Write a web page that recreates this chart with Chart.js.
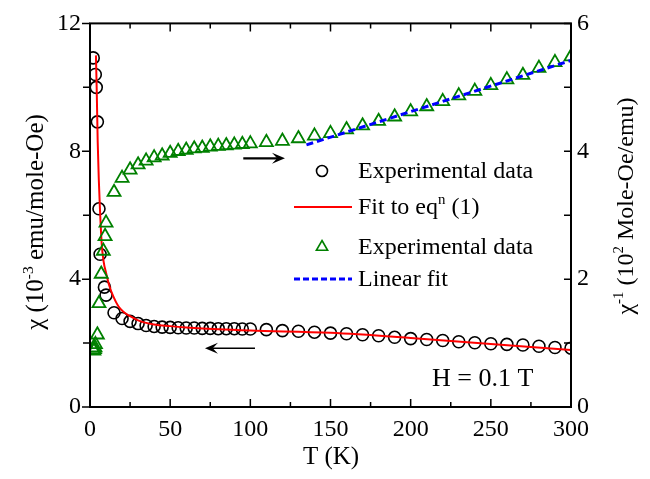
<!DOCTYPE html>
<html><head><meta charset="utf-8">
<script src="https://cdn.jsdelivr.net/npm/chart.js@4.4.1/dist/chart.umd.min.js"></script>
<style>html,body{margin:0;padding:0;background:#fff}</style>
</head><body>
<canvas id="c" width="650" height="479"></canvas>
<script>
// ---- data ----
const T_CHI = [2, 3.3, 3.9, 4.6, 5.6, 6.3, 9, 10, 15, 20, 25, 30, 35, 40, 45, 50, 55, 60, 65, 70, 75, 80, 85, 90, 95, 100,
  110, 120, 130, 140, 150, 160, 170, 180, 190, 200, 210, 220, 230, 240, 250, 260, 270, 280, 290, 300];
const CHI = [10.92, 10.4, 10.0, 8.92, 6.2, 4.78, 3.75, 3.5, 2.95, 2.77, 2.68, 2.61, 2.55, 2.52, 2.50, 2.49, 2.48, 2.47, 2.47, 2.46, 2.46, 2.45, 2.45, 2.45, 2.44, 2.44,
  2.42, 2.39, 2.37, 2.34, 2.31, 2.29, 2.26, 2.23, 2.18, 2.14, 2.11, 2.08, 2.04, 2.01, 1.98, 1.96, 1.94, 1.90, 1.86, 1.84];

const T_FIT = [3.7, 4.2, 4.8, 5.5, 6.2, 7.3, 8.5, 10, 12, 14.6, 17.7, 20.8, 25, 30, 40, 50, 60, 80, 100, 150, 200, 250, 300];
const CHI_FIT = [11.0, 9.9, 8.3, 7.1, 6.2, 5.1, 4.55, 4.2, 3.8, 3.45, 3.15, 2.98, 2.84, 2.71, 2.58, 2.53, 2.49, 2.43, 2.39, 2.32, 2.16, 1.97, 1.78];

const T_INV = [2.4, 2.8, 3.1, 3.4, 4.6, 5.6, 7.0, 8.3, 9.4, 10, 15, 20, 25, 30, 35, 40, 45, 50, 55, 60, 65, 70, 75, 80, 85, 90, 95, 100,
  110, 120, 130, 140, 150, 160, 170, 180, 190, 200, 210, 220, 230, 240, 250, 260, 270, 280, 290, 300];
const CHI_INV = [0.88, 0.90, 0.93, 0.98, 1.13, 1.62, 2.08, 2.44, 2.67, 2.88, 3.36, 3.58, 3.71, 3.79, 3.85, 3.90, 3.93, 3.97, 4.00, 4.02, 4.04, 4.05, 4.07, 4.08, 4.09, 4.10, 4.11, 4.12,
  4.14, 4.16, 4.20, 4.24, 4.28, 4.34, 4.40, 4.47, 4.54, 4.62, 4.70, 4.78, 4.87, 4.94, 5.03, 5.12, 5.19, 5.30, 5.39, 5.48];

const T_LIN = [135, 300];
const INV_LIN = [4.10, 5.42];

const X_TICKS = [0, 50, 100, 150, 200, 250, 300];
const Y_TICKS = [0, 4, 8, 12];
const Y2_TICKS = [0, 2, 4, 6];

const LEGEND_LABELS = ['Experimental data', 'Fit to eq', 'Experimental data', 'Linear fit'];
const ANNOTATION = 'H = 0.1 T';
// arrows: [x1, x2, y]
const ARROW_RIGHT = [95.6, 121.6, 3.89];
const ARROW_LEFT = [102.9, 71.7, 1.84];

const FONT = '"Liberation Serif", "Times New Roman", serif';
function pts(xs, ys) { return xs.map((x, i) => ({ x: x, y: ys[i] })); }

function drawRich(ctx, parts, x, y, size, align) {
  let total = 0;
  for (const p of parts) {
    ctx.font = (p[1] ? size * 0.62 : size) + 'px ' + FONT;
    total += ctx.measureText(p[0]).width;
  }
  let cx = align === 'center' ? x - total / 2 : x;
  ctx.textAlign = 'left';
  ctx.textBaseline = 'alphabetic';
  for (const p of parts) {
    ctx.font = (p[1] ? size * 0.62 : size) + 'px ' + FONT;
    ctx.fillText(p[0], cx, p[1] ? y - size * 0.42 : y);
    cx += ctx.measureText(p[0]).width;
  }
}

function arrow(ctx, x1, y, x2, lw, hl, hw) {
  const dir = Math.sign(x2 - x1);
  ctx.save();
  ctx.strokeStyle = '#000'; ctx.fillStyle = '#000'; ctx.lineWidth = lw;
  ctx.beginPath(); ctx.moveTo(x1, y); ctx.lineTo(x2 - dir * hl * 0.6, y); ctx.stroke();
  ctx.beginPath();
  ctx.moveTo(x2, y);
  ctx.lineTo(x2 - dir * hl, y - hw);
  ctx.lineTo(x2 - dir * hl * 0.6, y);
  ctx.lineTo(x2 - dir * hl, y + hw);
  ctx.closePath(); ctx.fill();
  ctx.restore();
}

const decor = {
  id: 'decor',
  afterDraw(chart) {
    const ctx = chart.ctx;
    const a = chart.chartArea;
    const sx = chart.scales.x, sy = chart.scales.y, sy2 = chart.scales.y2;
    ctx.save();
    // frame
    ctx.strokeStyle = '#000'; ctx.lineWidth = 2;
    ctx.strokeRect(a.left, a.top, a.right - a.left, a.bottom - a.top);
    ctx.lineWidth = 1.5;
    ctx.beginPath();
    for (let v = 0; v <= 300; v += 25) {
      const px = sx.getPixelForValue(v);
      const L = v % 50 === 0 ? 8 : 5;
      ctx.moveTo(px, a.bottom); ctx.lineTo(px, a.bottom - L);
      ctx.moveTo(px, a.top); ctx.lineTo(px, a.top + L);
    }
    for (let v = 0; v <= 12; v += 2) {
      const py = sy.getPixelForValue(v);
      const L = v % 4 === 0 ? 8 : 7;
      ctx.moveTo(a.left, py); ctx.lineTo(a.left - L, py);
    }
    for (let v = 0; v <= 6; v += 1) {
      const py = sy2.getPixelForValue(v);
      ctx.moveTo(a.right, py); ctx.lineTo(a.right - 7, py);
    }
    ctx.stroke();

    arrow(ctx, sx.getPixelForValue(ARROW_RIGHT[0]), sy2.getPixelForValue(ARROW_RIGHT[2]), sx.getPixelForValue(ARROW_RIGHT[1]), 2.2, 13, 5.5);
    arrow(ctx, sx.getPixelForValue(ARROW_LEFT[0]), sy.getPixelForValue(ARROW_LEFT[2]), sx.getPixelForValue(ARROW_LEFT[1]), 1.6, 13, 5.5);

    // legend
    const lx = 358, mx = 322;
    const rows = [171, 207, 247, 279];
    ctx.strokeStyle = '#000'; ctx.lineWidth = 1.6;
    ctx.beginPath(); ctx.arc(mx, rows[0], 5.5, 0, Math.PI * 2); ctx.stroke();
    ctx.strokeStyle = '#ff0000'; ctx.lineWidth = 2;
    ctx.beginPath(); ctx.moveTo(294, rows[1]); ctx.lineTo(352, rows[1]); ctx.stroke();
    ctx.strokeStyle = '#008000'; ctx.lineWidth = 1.6;
    ctx.beginPath();
    const r = 6.5;
    ctx.moveTo(mx, rows[2] - r);
    ctx.lineTo(mx + r * 0.866, rows[2] + r * 0.5);
    ctx.lineTo(mx - r * 0.866, rows[2] + r * 0.5);
    ctx.closePath(); ctx.stroke();
    ctx.strokeStyle = '#0000ff'; ctx.lineWidth = 3; ctx.setLineDash([6, 3]);
    ctx.beginPath(); ctx.moveTo(294, rows[3]); ctx.lineTo(352, rows[3]); ctx.stroke();
    ctx.setLineDash([]);
    ctx.fillStyle = '#000';
    drawRich(ctx, [[LEGEND_LABELS[0], false]], lx, rows[0] + 7, 24);
    drawRich(ctx, [[LEGEND_LABELS[1], false], ['n', true], [' (1)', false]], lx, rows[1] + 7, 24);
    drawRich(ctx, [[LEGEND_LABELS[2], false]], lx, rows[2] + 7, 24);
    drawRich(ctx, [[LEGEND_LABELS[3], false]], lx, rows[3] + 7, 24);

    drawRich(ctx, [[ANNOTATION, false]], 432, 386, 26);

    drawRich(ctx, [['T (K)', false]], 331, 464, 25, 'center');
    ctx.save();
    ctx.translate(43, 222); ctx.rotate(-Math.PI / 2);
    drawRich(ctx, [['\u03C7 (10', false], ['-3', true], [' emu/mole-Oe)', false]], 0, 0, 25, 'center');
    ctx.restore();
    ctx.save();
    ctx.translate(633, 206); ctx.rotate(-Math.PI / 2);
    drawRich(ctx, [['\u03C7', false], ['-1', true], [' (10', false], ['2', true], [' Mole-Oe/emu)', false]], 0, 0, 24, 'center');
    ctx.restore();
    ctx.restore();
  }
};

const tickFont = { family: FONT, size: 24 };
new Chart(document.getElementById('c'), {
  type: 'scatter',
  data: {
    datasets: [
      { label: 'chi', data: pts(T_CHI, CHI), yAxisID: 'y', showLine: false, pointStyle: 'circle', pointRadius: 6,
        borderColor: '#000', backgroundColor: 'rgba(0,0,0,0)', pointBorderWidth: 1.6, order: 4, clip: 0 },
      { label: 'fit', data: pts(T_FIT, CHI_FIT), yAxisID: 'y', showLine: true, pointRadius: 0, borderColor: '#ff0000',
        borderWidth: 2, cubicInterpolationMode: 'monotone', order: 3, clip: 0 },
      { label: 'inv', data: pts(T_INV, CHI_INV), yAxisID: 'y2', showLine: false, pointStyle: 'triangle', pointRadius: 7.5,
        borderColor: '#008000', backgroundColor: 'rgba(0,0,0,0)', pointBorderWidth: 1.8, order: 2, clip: 0 },
      { label: 'lin', data: pts(T_LIN, INV_LIN), yAxisID: 'y2', showLine: true, pointRadius: 0, borderColor: '#0000ff',
        borderWidth: 3, borderDash: [7, 4], order: 1, clip: 0 }
    ]
  },
  options: {
    responsive: false, animation: false, devicePixelRatio: 1,
    layout: { padding: { top: 17, left: 0, right: 0, bottom: 0 } },
    plugins: { legend: { display: false }, tooltip: { enabled: false } },
    scales: {
      x: { type: 'linear', min: 0, max: 300,
        afterBuildTicks: s => { s.ticks = X_TICKS.map(v => ({ value: v })); },
        ticks: { font: tickFont, color: '#000', padding: 8, maxRotation: 0, autoSkip: false },
        grid: { display: false, drawTicks: false }, border: { display: false },
        afterFit: s => { s.height = 72; } },
      y: { position: 'left', min: 0, max: 12,
        afterBuildTicks: s => { s.ticks = Y_TICKS.map(v => ({ value: v })); },
        ticks: { font: tickFont, color: '#000', padding: 9, autoSkip: false },
        grid: { display: false, drawTicks: false }, border: { display: false },
        afterFit: s => { s.width = 90; } },
      y2: { position: 'right', min: 0, max: 6,
        afterBuildTicks: s => { s.ticks = Y2_TICKS.map(v => ({ value: v })); },
        ticks: { font: tickFont, color: '#000', padding: 6, autoSkip: false },
        grid: { display: false, drawTicks: false }, border: { display: false },
        afterFit: s => { s.width = 79; } }
    }
  },
  plugins: [decor]
});
</script>
</body></html>
